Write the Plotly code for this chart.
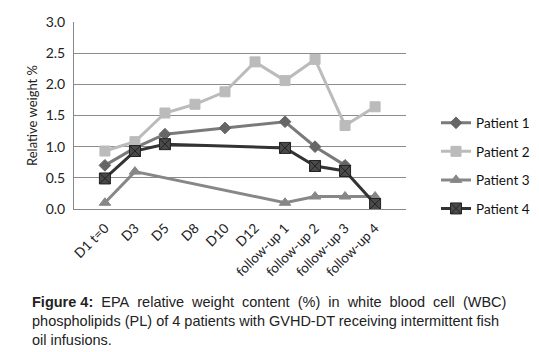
import plotly.graph_objects as go

categories = ["D1 t=0", "D3", "D5", "D8", "D10", "D12",
              "follow-up 1", "follow-up 2", "follow-up 3", "follow-up 4"]
patient1 = [0.70, 0.98, 1.20, None, 1.30, None, 1.40, 1.00, 0.70, None]
patient2 = [0.93, 1.08, 1.54, 1.68, 1.88, 2.36, 2.06, 2.40, 1.34, 1.64]
patient3 = [0.10, 0.60, None, None, None, None, 0.10, 0.20, 0.20, 0.20]
patient4 = [0.49, 0.93, 1.04, None, None, None, 0.98, 0.69, 0.61, 0.08]
y_ticks = [0.0, 0.5, 1.0, 1.5, 2.0, 2.5, 3.0]

series = [
    ("Patient 1", patient1, "#7A7A7A", "#666666", "diamond", 9, "#666666"),
    ("Patient 2", patient2, "#BBBBBB", "#BBBBBB", "square", 10, "#BBBBBB"),
    ("Patient 3", patient3, "#878787", "#878787", "triangle-up", 10, "#878787"),
    ("Patient 4", patient4, "#333333", "#4A4A4A", "square-x", 11, "#222222"),
]

fig = go.Figure()
for i, (name, vals, lc, mc, sym, sz, mlc) in enumerate(series):
    fig.add_trace(go.Scatter(
        x=list(range(len(categories))), y=vals, name=name, mode="lines+markers",
        connectgaps=True, legendgroup=f"g{i}",
        line=dict(color=lc, width=3),
        marker=dict(symbol=sym, size=sz, color=mc, line=dict(color=mlc, width=1)),
    ))

# page has an 8px body margin; figure coordinates are offset accordingly
W, H = 531, 344
L, R, T, B = 66, 133, 14, 143
PH = H - T - B
PW = W - L - R

font_main = "Lato, 'Open Sans', sans-serif"
fig.update_layout(
    width=W, height=H,
    margin=dict(l=L, r=R, t=T, b=B, autoexpand=False),
    paper_bgcolor="white", plot_bgcolor="white",
    font=dict(family=font_main, size=12, color="#222222"),
    showlegend=True,
    legend=dict(xref="container", yref="container", x=428 / W, y=1 - 158 / H,
                xanchor="left", yanchor="middle",
                tracegroupgap=8, font=dict(size=13.5, color="#111111"),
                bgcolor="rgba(0,0,0,0)"),
    xaxis=dict(
        tickmode="array", tickvals=list(range(len(categories))), ticktext=categories,
        range=[-1.03, 10.03], tickangle=-45, showgrid=False, zeroline=False,
        showline=True, linecolor="#888888", linewidth=1,
        ticklabelstandoff=5,
        tickfont=dict(size=13.5, color="#222222"),
    ),
    yaxis=dict(
        range=[0, 3.0], tickvals=y_ticks, ticktext=[f"{v:.1f}" for v in y_ticks],
        showgrid=True, gridcolor="#8C8C8C", gridwidth=1, zeroline=False,
        showline=True, linecolor="#888888", linewidth=1,
        ticklabelstandoff=5,
        tickfont=dict(size=14, color="#222222"),
        title=dict(text="Relative weight %", font=dict(size=13, color="#222222"), standoff=5),
    ),
)

caption_lines = [
    "<b>Figure&nbsp;4:</b>&nbsp; EPA&nbsp; relative&nbsp; weight&nbsp; content&nbsp; (%)&nbsp; in&nbsp; white&nbsp; blood&nbsp; cell&nbsp; (WBC)",
    "phospholipids (PL) of 4 patients with GVHD-DT receiving intermittent fish",
    "oil infusions.",
]
ys = [294, 313, 332]
for line, ypx in zip(caption_lines, ys):
    fig.add_annotation(
        text=line, xref="paper", yref="paper",
        x=(22 - L) / PW, y=(H - B - ypx) / PH,
        xanchor="left", yanchor="middle", showarrow=False,
        font=dict(family="Liberation Sans, Arial, sans-serif", size=14.5, color="#222222"),
    )

fig.write_html("out.html")
